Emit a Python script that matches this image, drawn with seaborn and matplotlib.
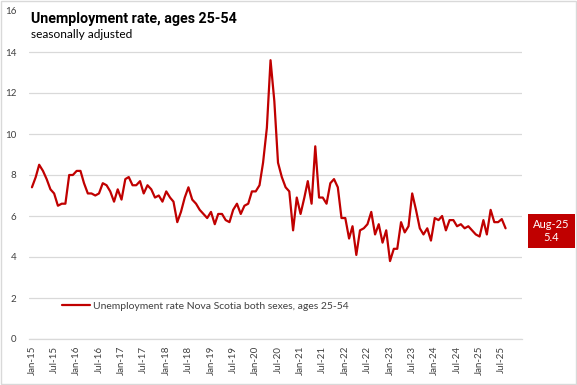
import numpy as np
import pandas as pd
import matplotlib
matplotlib.use("Agg")
import matplotlib.pyplot as plt
import matplotlib.dates as mdates
from matplotlib.patches import Rectangle
import seaborn as sns

# ── 1. DATA (monthly, Jan-15 .. Aug-25) ───────────────────────────────────────
start_month = "2015-01"
rate = [
    7.4, 7.9, 8.5, 8.2, 7.8, 7.3, 7.1, 6.5, 6.6, 6.6, 8.0, 8.0,    # 2015
    8.2, 8.2, 7.6, 7.1, 7.1, 7.0, 7.1, 7.6, 7.5, 7.2, 6.7, 7.3,    # 2016
    6.8, 7.8, 7.9, 7.5, 7.5, 7.7, 7.1, 7.5, 7.3, 6.9, 7.0, 6.7,    # 2017
    7.2, 6.9, 6.7, 5.7, 6.2, 6.9, 7.4, 6.8, 6.6, 6.3, 6.1, 5.9,    # 2018
    6.2, 5.6, 6.1, 6.1, 5.8, 5.7, 6.3, 6.6, 6.1, 6.5, 6.6, 7.2,    # 2019
    7.2, 7.5, 8.6, 10.3, 13.6, 11.6, 8.6, 7.9, 7.4, 7.2, 5.3, 6.9, # 2020
    6.1, 6.9, 7.7, 6.6, 9.4, 6.9, 6.9, 6.6, 7.6, 7.8, 7.4, 5.9,    # 2021
    5.9, 4.9, 5.5, 4.1, 5.3, 5.4, 5.6, 6.2, 5.1, 5.6, 4.7, 5.3,    # 2022
    3.8, 4.4, 4.4, 5.7, 5.2, 5.5, 7.1, 6.3, 5.4, 5.1, 5.4, 4.8,    # 2023
    5.9, 5.8, 6.0, 5.3, 5.8, 5.8, 5.5, 5.6, 5.4, 5.5, 5.3, 5.1,    # 2024
    5.0, 5.8, 5.1, 6.3, 5.7, 5.7, 5.85, 5.4,                        # 2025
]
series_name = "Unemployment rate Nova Scotia both sexes, ages 25-54"
title = "Unemployment rate, ages 25-54"
subtitle = "seasonally adjusted"
y_ticks = [0, 2, 4, 6, 8, 10, 12, 14, 16]
last_label = "Aug-25"

months = pd.date_range(start_month, periods=len(rate), freq="MS")
df = pd.DataFrame({"month": months, "rate": rate})

# ── 2. STYLE ──────────────────────────────────────────────────────────────────
sns.set_theme(style="white")
plt.rcParams["font.family"] = ["Lato", "DejaVu Sans"]
red = "#C00000"
grid_col = "#D9D9D9"
text_col = "#404040"

fig = plt.figure(figsize=(5.77, 3.85), dpi=100)
ax = fig.add_axes([29 / 577, 1 - 339 / 385, 493 / 577, 328 / 385])

# ── 3. LINE ───────────────────────────────────────────────────────────────────
sns.lineplot(data=df, x="month", y="rate", ax=ax, color=red,
             linewidth=1.6, label=series_name)

ax.set_ylim(0, 16)
ax.set_yticks(y_ticks)
ax.set_xlim(pd.Timestamp("2014-12-08"), pd.Timestamp("2025-12-13"))
tick_months = pd.date_range(start_month, months[-1], freq="6MS")
ax.set_xticks(tick_months)
ax.xaxis.set_major_formatter(mdates.DateFormatter("%b-%y"))
ax.tick_params(axis="x", rotation=90, labelsize=7, colors=text_col, length=0, pad=5)
ax.tick_params(axis="y", labelsize=7, colors=text_col, length=0, pad=9)
ax.set_xlabel("")
ax.set_ylabel("")

ax.grid(axis="y", color=grid_col, linewidth=0.9)
ax.yaxis.get_gridlines()[-1].set_visible(False)
for s in ["left", "right", "top"]:
    ax.spines[s].set_visible(False)
ax.spines["bottom"].set_color(grid_col)
ax.spines["bottom"].set_linewidth(0.9)

ax.legend(loc="center left", bbox_to_anchor=(0.048, 0.10), frameon=False,
          fontsize=7.5, handlelength=2.7, handletextpad=0.3,
          labelcolor=text_col)

# ── 4. LAST VALUE LABEL ───────────────────────────────────────────────────────
ax.annotate(f"{last_label}\n{rate[-1]}", xy=(months[-1], rate[-1]),
            xytext=(33, -2), textcoords="offset points",
            ha="center", va="center", color="white", fontsize=8,
            linespacing=1.3, annotation_clip=False,
            bbox=dict(boxstyle="square,pad=0.45", fc=red, ec="none"))

# ── 5. TITLES + BORDER ────────────────────────────────────────────────────────
fig.text(31 / 577, 1 - 19 / 385, title, fontsize=10.3, weight="bold",
         family=["Roboto", "DejaVu Sans"], color="black", va="center")
fig.text(31 / 577, 1 - 34 / 385, subtitle, fontsize=8.6, color="black", va="center")
fig.patches.append(Rectangle((0.001, 0.002), 0.997, 0.996, transform=fig.transFigure,
                             fill=False, edgecolor=grid_col, linewidth=1))

fig.savefig("out.png", dpi=100)
print("Saved: out.png")
